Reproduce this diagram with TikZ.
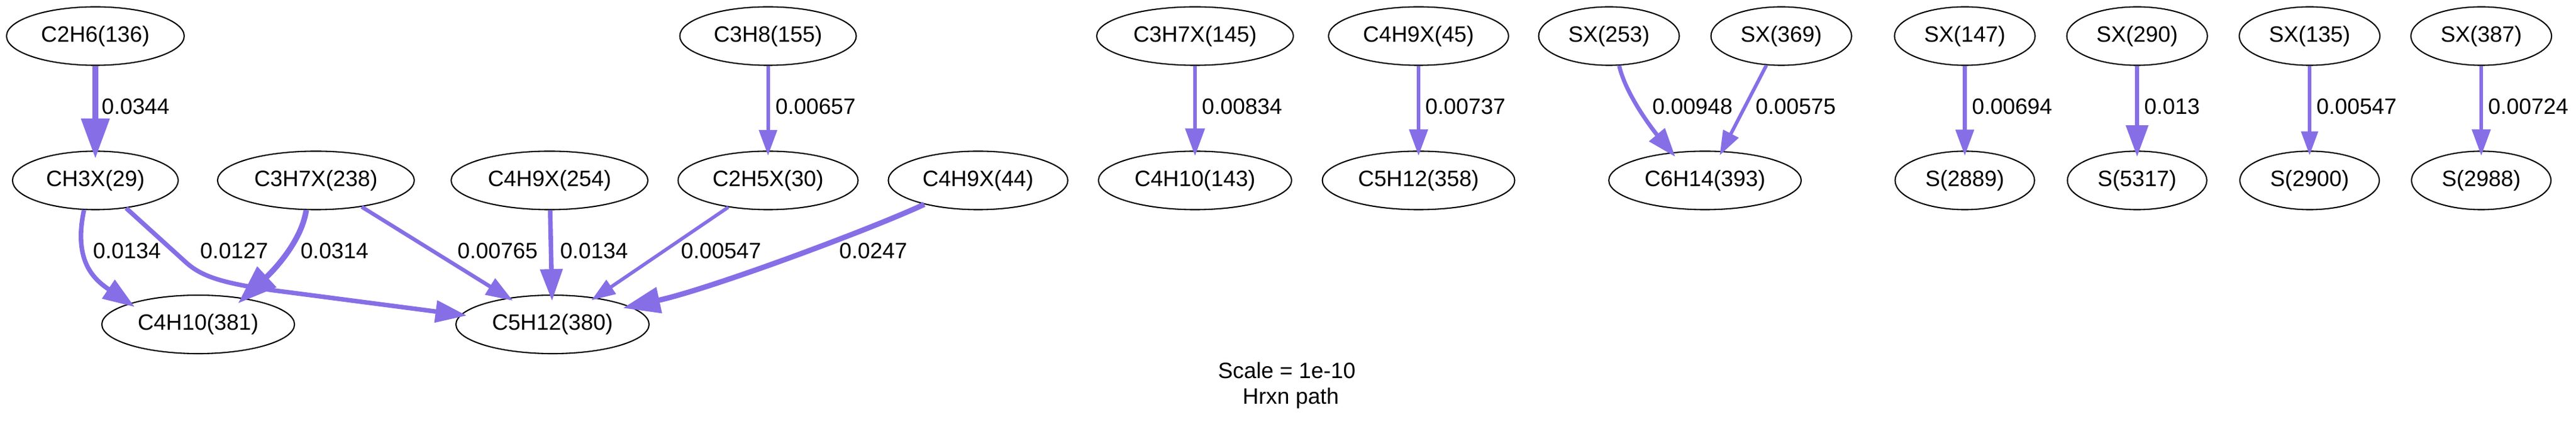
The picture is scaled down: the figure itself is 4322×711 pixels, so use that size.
\documentclass[tikz,border=0pt]{standalone}
\usepackage{fontspec}
\setmainfont{Liberation Sans}
\usetikzlibrary{arrows.meta,shapes.geometric}
\definecolor{edgecol}{RGB}{134,111,230}
\newcommand{\labfont}{\fontsize{13.4}{16}\selectfont}
\begin{document}
\begin{tikzpicture}[x=0.36pt, y=-0.36pt,
  sp/.style={draw, ellipse, line width=0.75pt, inner sep=0pt, minimum height=35.3pt, minimum width={(2*#1-2)*0.36pt}, font=\labfont},
  lbl/.style={anchor=west, inner sep=0pt, font=\labfont},
  flow/.style={draw=edgecol, line width=#1pt, shorten >={-1.4*#1pt}, -{Triangle[length=0pt 7 0, width=0pt 4.8 0]}}]
\useasboundingbox (0,0) rectangle (4322,711);
% row 1
\node[sp=150] (n1) at (160,60.5) {C2H6(136)};
\node[sp=149] (n2) at (1288.6,60.5) {C3H8(155)};
\node[sp=166] (n3) at (2005,60.5) {C3H7X(145)};
\node[sp=152] (n4) at (2380,60.5) {C4H9X(45)};
\node[sp=119] (n5) at (2699.5,60.5) {SX(253)};
\node[sp=119] (n6) at (2988.6,60.5) {SX(369)};
\node[sp=119] (n7) at (3296.5,60.5) {SX(147)};
\node[sp=119] (n8) at (3585.6,60.5) {SX(290)};
\node[sp=119] (n9) at (3875,60.5) {SX(135)};
\node[sp=119] (n10) at (4163,60.5) {SX(387)};
% row 2
\node[sp=140] (m1) at (160,302.5) {CH3X(29)};
\node[sp=166] (m2) at (530,302.5) {C3H7X(238)};
\node[sp=166] (m3) at (922,302.5) {C4H9X(254)};
\node[sp=152] (m4) at (1288.6,302.5) {C2H5X(30)};
\node[sp=151.6] (m5) at (1641,302.5) {C4H9X(44)};
\node[sp=163] (m6) at (2005,302.5) {C4H10(143)};
\node[sp=162.4] (m7) at (2380,302.5) {C5H12(358)};
\node[sp=162.4] (m8) at (2860.6,302.5) {C6H14(393)};
\node[sp=118] (m9) at (3296.5,302.5) {S(2889)};
\node[sp=118] (m10) at (3585.6,302.5) {S(5317)};
\node[sp=118] (m11) at (3875,302.5) {S(2900)};
\node[sp=118] (m12) at (4163,302.5) {S(2988)};
% row 3
\node[sp=162.6] (b1) at (332.5,544) {C4H10(381)};
\node[sp=163] (b2) at (927,544) {C5H12(380)};
% bend points
\coordinate (k1) at (312,440);
\coordinate (k2) at (460,487);
% edges row 1 -> row 2
\draw[flow=3.456] (n1) -- (m1);
\draw[flow=2.206] (n2) -- (m4);
\draw[flow=2.386] (n3) -- (m6);
\draw[flow=2.293] (n4) -- (m7);
\draw[flow=2.483] (n5.-71.4) .. controls (2728,160) and (2775,220) .. (m8.140.2);
\draw[flow=2.106] (n6.-117.7) -- (m8.60.5);
\draw[flow=2.248] (n7) -- (m9);
\draw[flow=2.721] (n8) -- (m10);
\draw[flow=2.068] (n9) -- (m11);
\draw[flow=2.280] (n10) -- (m12);
% edges row 2 -> row 3
\draw[flow=2.744] (m1.-111.6) .. controls (122,440) and (160,470) .. (b1.163.8);
\draw[flow=2.704] (m1.-42.4) -- (k1) .. controls (337,462.5) and (370,474.7) .. (k2) -- (b2.174.9);
\draw[flow=3.387] (m2.-108.6) .. controls (505,410) and (450,462) .. (b1.30);
\draw[flow=2.321] (m2.-30.7) -- (b2.149.2);
\draw[flow=2.744] (m3) -- (b2);
\draw[flow=2.068] (m4.-146.8) -- (b2.32.7);
\draw[flow=3.206] (m5.-156.8) .. controls (1460,385) and (1190,485) .. (b2.13.7);
% labels
\node[lbl] (l1) at (170,179) {0.0344};
\node[lbl] (l2) at (1300.5,179) {0.00657};
\node[lbl] (l3) at (2016,179) {0.00834};
\node[lbl] (l4) at (2390.8,179) {0.00737};
\node[lbl] (l5) at (2771.7,179) {0.00948};
\node[lbl] (l6) at (2945,179) {0.00575};
\node[lbl] (l7) at (3308,179) {0.00694};
\node[lbl] (l8) at (3597,179) {0.013};
\node[lbl] (l9) at (3886,179) {0.00547};
\node[lbl] (l10) at (4174,179) {0.00724};
\node[lbl] (l11) at (155.5,421) {0.0134};
\node[lbl] (l12) at (335.4,421) {0.0127};
\node[lbl] (l13) at (503.7,421) {0.0314};
\node[lbl] (l14) at (767,421) {0.00765};
\node[lbl] (l15) at (939.2,421) {0.0134};
\node[lbl] (l16) at (1142,421) {0.00547};
\node[lbl] (l17) at (1407.6,421) {0.0247};
% title
\node[anchor=base, inner sep=0pt, font=\labfont] (t1) at (2159,635) {Scale = 1e-10};
\node[anchor=base, inner sep=0pt, font=\labfont] (t2) at (2165.6,677.7) {Hrxn path};
\end{tikzpicture}
\end{document}
